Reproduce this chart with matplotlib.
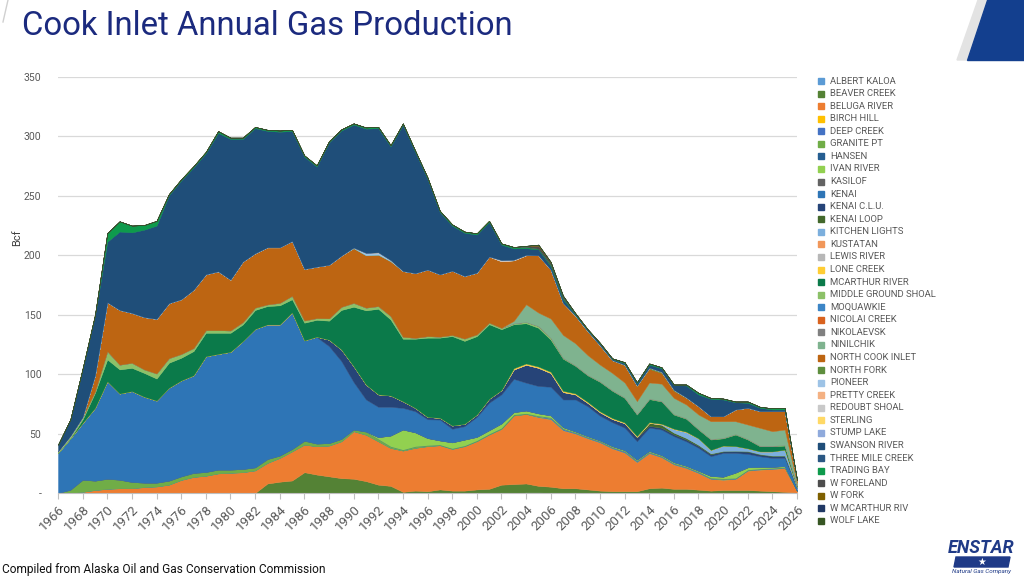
import matplotlib
matplotlib.use("Agg")
import matplotlib.pyplot as plt
from matplotlib import font_manager as fm
from matplotlib.patches import Rectangle, Polygon

# years on the category axis
years = list(range(1966, 2027))


def series(start, vals):
    # place a short run of yearly values into the full 1966-2026 range
    out = [0.0] * len(years)
    i0 = start - years[0]
    out[i0:i0 + len(vals)] = vals
    return out


# annual production by field, Bcf
albert_kaloa = series(2004, [0.5, 0.5, 0.3])
beaver_creek = [0, 0, 0, 0, 0, 0, 0, 0, 0, 0,
                0, 0, 0, 0, 0, 0, 0, 8, 9.5, 10.5,
                17.5, 15.5, 14, 12.5, 12, 10, 7, 6, 1, 2,
                1.5, 3, 2, 2, 3, 3.5, 7, 7.5, 7.5, 5.5,
                5, 4, 4, 3, 2, 1.5, 1.5, 1.5, 4, 4.5,
                3.5, 3.5, 2.8, 2, 2.5, 2.5, 2.5, 2, 1.5, 1,
                0.3]
beluga_river = [0, 0, 1, 2.5, 3.5, 4, 4, 5, 5.5, 7,
                11, 13.5, 14.5, 16.5, 17, 17.5, 19, 17.3, 20, 24.5,
                23.2, 23.8, 25.9, 31, 40, 39, 36.5, 31.9, 34.7, 36,
                37.9, 37.2, 35.1, 37.4, 40.6, 45.7, 47, 57.7, 58.5, 57.8,
                56.8, 48.8, 46, 43, 40.5, 36, 32.5, 24.5, 29.5, 25.5,
                20.5, 17.5, 14, 9.8, 8.7, 9.3, 16.3, 17.7, 18.7, 20,
                1.5]
birch_hill = series(1966, [])
deep_creek = series(2005, [0.5, 1, 1, 0.8, 0.8, 0.8, 0.8, 1, 1, 0.8, 0.8,
                           0.8, 0.8, 0.8, 0.5, 0.5, 0.5, 0.5, 0.5, 0.5, 0.5])
granite_pt = [0, 2.8, 10.2, 7.9, 8.5, 7.2, 5.3, 3.7, 3.2, 3.4,
              3, 3.4, 3.2, 3.2, 2.7, 2.7, 2.6, 3.3, 2, 2,
              3.3, 2.3, 2.1, 2, 1.4, 2.7, 2, 1.4, 0.8, 1.3,
              0.8, 0.5, 0.5, 0.5, 0.6, 0.6, 0.7, 0.8, 0.5, 0.7,
              0.5, 0.5, 0.3, 0.3, 0.3, 0.3, 0.3, 0.3, 0.3, 0.3,
              0.3, 0.3, 0.3, 0.5, 0.5, 0.3, 0.3, 0.3, 0.3, 0.3,
              0]
hansen = series(1966, [])
ivan_river = series(1992, [1.5, 9, 16.9, 11.7,
                           6, 3.5, 5, 5, 3, 3, 3.8, 2, 2.4, 2,
                           1.7, 1.1, 0.7, 0.7, 0.6, 0.8, 0.8, 0.8, 0.8, 0.8,
                           0.8, 0.8, 0.8, 1.5, 1.5, 4.5, 2, 1.5, 1, 0.8])
kasilof = series(1966, [])
kenai = [33.7, 43.2, 47.8, 61.2, 82, 72.5, 76.4, 72.3, 69.1, 78.1,
         80.7, 82.1, 97.3, 97.3, 99.1, 107.6, 116.4, 113.2, 110.3, 115,
         84.4, 89.6, 81.6, 65.5, 39.9, 27, 25.5, 24.2, 18.2, 17.8,
         15.8, 17.6, 11.4, 11.3, 16.8, 23.2, 24.5, 28, 23.4, 23,
         24.1, 23.3, 26.9, 25.2, 20.8, 20.1, 18.9, 15.5, 19.6, 21.5,
         21.9, 20.6, 19.3, 16.7, 20, 16.6, 11.3, 8.9, 7.5, 6.9,
         2.7]
kenai_clu = series(1987, [0.3, 5.4, 9.8, 13.4, 12.6, 10.5, 9.5, 5.6, 2.8,
                          2, 1.5, 2.8, 2, 2, 3.3, 3.6, 8, 15.2, 15.4,
                          11.6, 6.3, 4.3, 2.9, 3, 2.8, 3.5, 3, 1.5, 1.5,
                          1.5, 1.5, 1.5, 1.5, 1.2, 1.3, 1.9, 1.4, 1.5, 1.5,
                          0.2])
kenai_loop = series(2012, [0.3, 0.8, 2.5, 2.5, 1.5, 1.3, 1, 0.8, 0.5, 0.5,
                           0.5, 0.5, 0.5, 0.5])
kitchen_lights = series(2015, [0.5, 3, 5, 5.5, 3, 4.5, 4, 2.3, 2.2, 3.5, 5, 0.5])
kustatan = series(1966, [])
lewis_river = series(1966, [])
lone_creek = series(2003, [1, 1, 1, 1, 1, 0.8, 0.8, 0.7, 0.8, 0.6, 0.6, 0.6,
                           0.4, 0.3, 0.3])
mcarthur_river = [0, 0, 3, 12.7, 18.4, 20.3, 19.6, 20, 18.5, 21.1,
                  19.1, 20.4, 19.8, 17.8, 16, 14, 16, 15.5, 16.1, 11,
                  14.9, 14.2, 16, 33.2, 50, 62.4, 72, 64, 52.6, 58.2,
                  66.7, 67.4, 75.2, 69.8, 66, 62.7, 51.2, 37, 33.8, 32.6,
                  27, 27, 23.2, 22.3, 24.8, 22.9, 20.6, 18, 19.4, 18.7,
                  11.9, 10.9, 7.4, 8.7, 6.1, 9.7, 7.4, 4.3, 4.3, 3.4,
                  1]
middle_ground_shoal = [1.3, 2, 2, 1.4, 7, 4, 4.3, 3, 4.3, 3.9,
                       3.2, 2.6, 2.2, 2.2, 2, 2, 2, 1.4, 2.1, 3,
                       1.9, 1.5, 2, 2.7, 3.3, 2.3, 2.3, 3, 1.7, 0.8,
                       1.3, 0.9, 1, 2, 1.5, 1.4, 1.2, 0.8, 1.2, 1.6,
                       1.7, 0.8, 0.5, 0.5, 0.5, 0.5, 0.5, 0.5, 0.5, 0.5,
                       0.5, 0.5, 0.5, 0.5, 0.5, 0.5, 0.5, 0.5, 0.5, 0.5,
                       0]
moquawkie = series(1966, [])
nicolai_creek = series(1966, [])
nikolaevsk = series(1966, [])
ninilchik = series(2003, [2, 14.8, 11.2, 16.1, 19.2, 18.5, 16.5, 14, 14.5,
                          12.5, 10.8, 13.5, 14.5, 13.5, 11.5, 12.1, 14.9,
                          13.9, 10.7, 12.1, 15, 12.2, 13, 2])
north_cook_inlet = [0, 0, 0, 13.3, 41.1, 46, 41.9, 44, 45.9, 46.2,
                    46, 49, 47, 49.5, 42.7, 50.9, 45.7, 48, 46.7, 46,
                    43.3, 43.2, 45, 43, 46, 44, 43.2, 46, 55.3, 54.4,
                    56, 52.4, 54, 52.6, 51.9, 55.6, 56, 51, 41.2, 48.2,
                    41.2, 27, 23, 20, 16, 10.5, 14.5, 12.7, 11.5, 9,
                    6, 5.5, 7, 4.2, 4.2, 9.9, 14.1, 14.1, 16.9, 15.5,
                    2.5]
north_fork = series(2008, [0.3, 0.3, 0.3, 0.3, 0.5, 0.5, 1, 1, 0.8, 0.5])
pioneer = series(1990, [0.5, 2, 2, 1])
pretty_creek = series(1966, [])
redoubt_shoal = series(2002, [1, 0.5, 0.3])
sterling = series(1966, [])
stump_lake = series(1966, [])
swanson_river = [5.7, 13.7, 40.5, 50.5, 51, 66, 67.8, 73.6, 78.5, 90.8,
                 100, 103, 102, 116.5, 118.5, 103.3, 105.3, 98, 97.3, 92.6,
                 94.5, 84.3, 103, 105.3, 103.5, 104.6, 104.5, 95.7, 123.2, 102,
                 76.5, 52.4, 38, 36.4, 32.1, 29, 13, 9.5, 5.7, 5,
                 3, 3, 1, 1, 1.5, 1, 1.3, 2, 2.5, 3,
                 4, 10, 9.9, 14.7, 14.1, 6.1, 4.2, 2.8, 1.4, 1.4,
                 0.3]
three_mile_creek = series(1966, [])
trading_bay = [0, 0.3, 0.5, 0.5, 7.3, 8.6, 5.7, 3.9, 4, 1,
               1, 1, 1, 1.5, 1, 1, 1, 0.9, 1, 1,
               1, 1, 1, 1, 1, 1, 1, 1, 1, 1,
               1, 1, 1, 1, 1, 1, 1, 1.2, 1, 0.5,
               1, 1, 0.5, 0.5, 0.5, 0.5, 0.8, 0.7, 1, 0.8,
               0.5, 0.8, 1.4, 0.7, 0.8, 0.6, 1.1, 0.8, 1, 1.4,
               0]
w_foreland = series(2004, [1, 2.5, 2, 2, 0.5])
w_fork = series(2005, [1, 0.5])
w_mcarthur_riv = series(1966, [])
wolf_lake = series(1966, [])

fields = ["ALBERT KALOA", "BEAVER CREEK", "BELUGA RIVER", "BIRCH HILL",
          "DEEP CREEK", "GRANITE PT", "HANSEN", "IVAN RIVER", "KASILOF",
          "KENAI", "KENAI C.L.U.", "KENAI LOOP", "KITCHEN LIGHTS",
          "KUSTATAN", "LEWIS RIVER", "LONE CREEK", "MCARTHUR RIVER",
          "MIDDLE GROUND SHOAL", "MOQUAWKIE", "NICOLAI CREEK", "NIKOLAEVSK",
          "NINILCHIK", "NORTH COOK INLET", "NORTH FORK", "PIONEER",
          "PRETTY CREEK", "REDOUBT SHOAL", "STERLING", "STUMP LAKE",
          "SWANSON RIVER", "THREE MILE CREEK", "TRADING BAY", "W FORELAND",
          "W FORK", "W MCARTHUR RIV", "WOLF LAKE"]
values = [albert_kaloa, beaver_creek, beluga_river, birch_hill, deep_creek,
          granite_pt, hansen, ivan_river, kasilof, kenai, kenai_clu,
          kenai_loop, kitchen_lights, kustatan, lewis_river, lone_creek,
          mcarthur_river, middle_ground_shoal, moquawkie, nicolai_creek,
          nikolaevsk, ninilchik, north_cook_inlet, north_fork, pioneer,
          pretty_creek, redoubt_shoal, sterling, stump_lake, swanson_river,
          three_mile_creek, trading_bay, w_foreland, w_fork, w_mcarthur_riv,
          wolf_lake]
colors = ["#5B9BD5", "#548235", "#ED7D31", "#FFC000", "#4472C4", "#70AD47",
          "#255E91", "#92D050", "#636363", "#2E75B6", "#264478", "#43682B",
          "#7CAFDD", "#F1975A", "#B7B7B7", "#FFCD33", "#0B7A4A", "#8CC168",
          "#3C85C6", "#D9621E", "#808080", "#7FB38F", "#BD6512", "#5E8E3E",
          "#9DC3E6", "#F4B183", "#C9C9C9", "#FFD966", "#8FAADC", "#1F4E79",
          "#2A5783", "#0E9A4C", "#4D4D4D", "#7F6000", "#203864", "#375623"]

for v in values:
    assert len(v) == len(years)


def has_font(name):
    try:
        fm.findfont(fm.FontProperties(family=name), fallback_to_default=False)
        return True
    except ValueError:
        return False


narrow = "Liberation Sans Narrow" if has_font("Liberation Sans Narrow") else "Roboto"
plain = "Roboto" if has_font("Roboto") else "DejaVu Sans"

W, H = 1024, 577
fig = plt.figure(figsize=(W / 100, H / 100), dpi=100)
renderer = fig.canvas.get_renderer()


def fx(px):
    return px / W


def fy(py):
    return 1 - py / H


def fit(t, target):
    # scale a text so that its width matches the reference
    w = t.get_window_extent(renderer).width
    t.set_fontsize(t.get_fontsize() * target / w)


# plot area
ax = fig.add_axes([fx(58), fy(493), fx(797) - fx(58), fy(77) - fy(493)])
ax.stackplot(years, *values, colors=colors, linewidth=0.3, edgecolor="face")
ax.set_xlim(1966, 2026)
ax.set_ylim(0, 350)
ax.set_yticks(range(0, 351, 50))
ax.set_yticklabels(["-"] + [str(v) for v in range(50, 351, 50)])
ax.set_xticks(range(1966, 2027, 2))
ax.set_xticklabels([str(y) for y in range(1966, 2027, 2)], rotation=45,
                   ha="right", va="top", rotation_mode="anchor")
ax.yaxis.grid(True, color="#D9D9D9", lw=0.9)
ax.set_axisbelow(True)
for s in ["top", "right", "left"]:
    ax.spines[s].set_visible(False)
ax.spines["bottom"].set_color("#BFBFBF")
ax.tick_params(axis="y", length=0, pad=12, labelsize=7.5, labelcolor="#595959")
ax.tick_params(axis="x", length=4, color="#BFBFBF", pad=3, labelsize=9.5,
               labelcolor="#595959")
for lab in ax.get_xticklabels() + ax.get_yticklabels():
    lab.set_family(plain)

fig.text(fx(17), fy(238), "Bcf", rotation=90, ha="center", va="center",
         fontsize=8, color="#404040", family=plain)

# title
title = fig.text(fx(22), fy(26), "Cook Inlet Annual Gas Production",
                 ha="left", va="center", fontsize=24, color="#1B2A7E",
                 family=narrow)
fit(title, 491)

# legend drawn row by row
for i, (name, col) in enumerate(zip(fields, colors)):
    yc = 81 + i * 12.57
    fig.patches.append(Rectangle((fx(818), fy(yc + 3)), fx(6), 6 / H,
                                 transform=fig.transFigure, color=col))
    t = fig.text(fx(830), fy(yc), name, ha="left", va="center",
                 fontsize=7.5, color="#595959", family=narrow)
    if name == "MIDDLE GROUND SHOAL":
        fit(t, 106)
        leg_size = t.get_fontsize()
for t in fig.texts[-len(fields):]:
    t.set_fontsize(leg_size)

# corner decoration
fig.patches.append(Polygon([(fx(978), 1), (fx(990), 1), (fx(970), fy(60)),
                            (fx(957), fy(60))], closed=True,
                           transform=fig.transFigure, color="#E3E3E3"))
fig.patches.append(Polygon([(fx(987), 1), (1, 1), (1, fy(60)),
                            (fx(967), fy(60))], closed=True,
                           transform=fig.transFigure, color="#133F8E"))
fig.lines.append(plt.Line2D([fx(8), fx(3)], [1, fy(22)], transform=fig.transFigure,
                            color="#D0D0D0", lw=1))

# source note
src = fig.text(fx(2), fy(570), "Compiled from Alaska Oil and Gas Conservation Commission",
               ha="left", va="center", fontsize=9, color="#111111", family=narrow)
fit(src, 326)

# logo
fig.text(fx(981), fy(548), "ENSTAR", ha="center", va="center", fontsize=13,
         fontweight="bold", fontstyle="italic", color="#1F3A87", family=plain)
fig.patches.append(Polygon([(fx(954), fy(567)), (fx(1008), fy(567)),
                            (fx(1010), fy(557)), (fx(956), fy(557))], closed=True,
                           transform=fig.transFigure, color="#1F3A87"))
fig.text(fx(982), fy(562), "\u2605", ha="center", va="center", fontsize=7,
         color="white", family="DejaVu Sans")
fig.text(fx(981), fy(572), "Natural Gas Company", ha="center", va="center",
         fontsize=4.5, fontstyle="italic", color="#1F3A87", family=plain)

fig.savefig("out.png", dpi=100)
